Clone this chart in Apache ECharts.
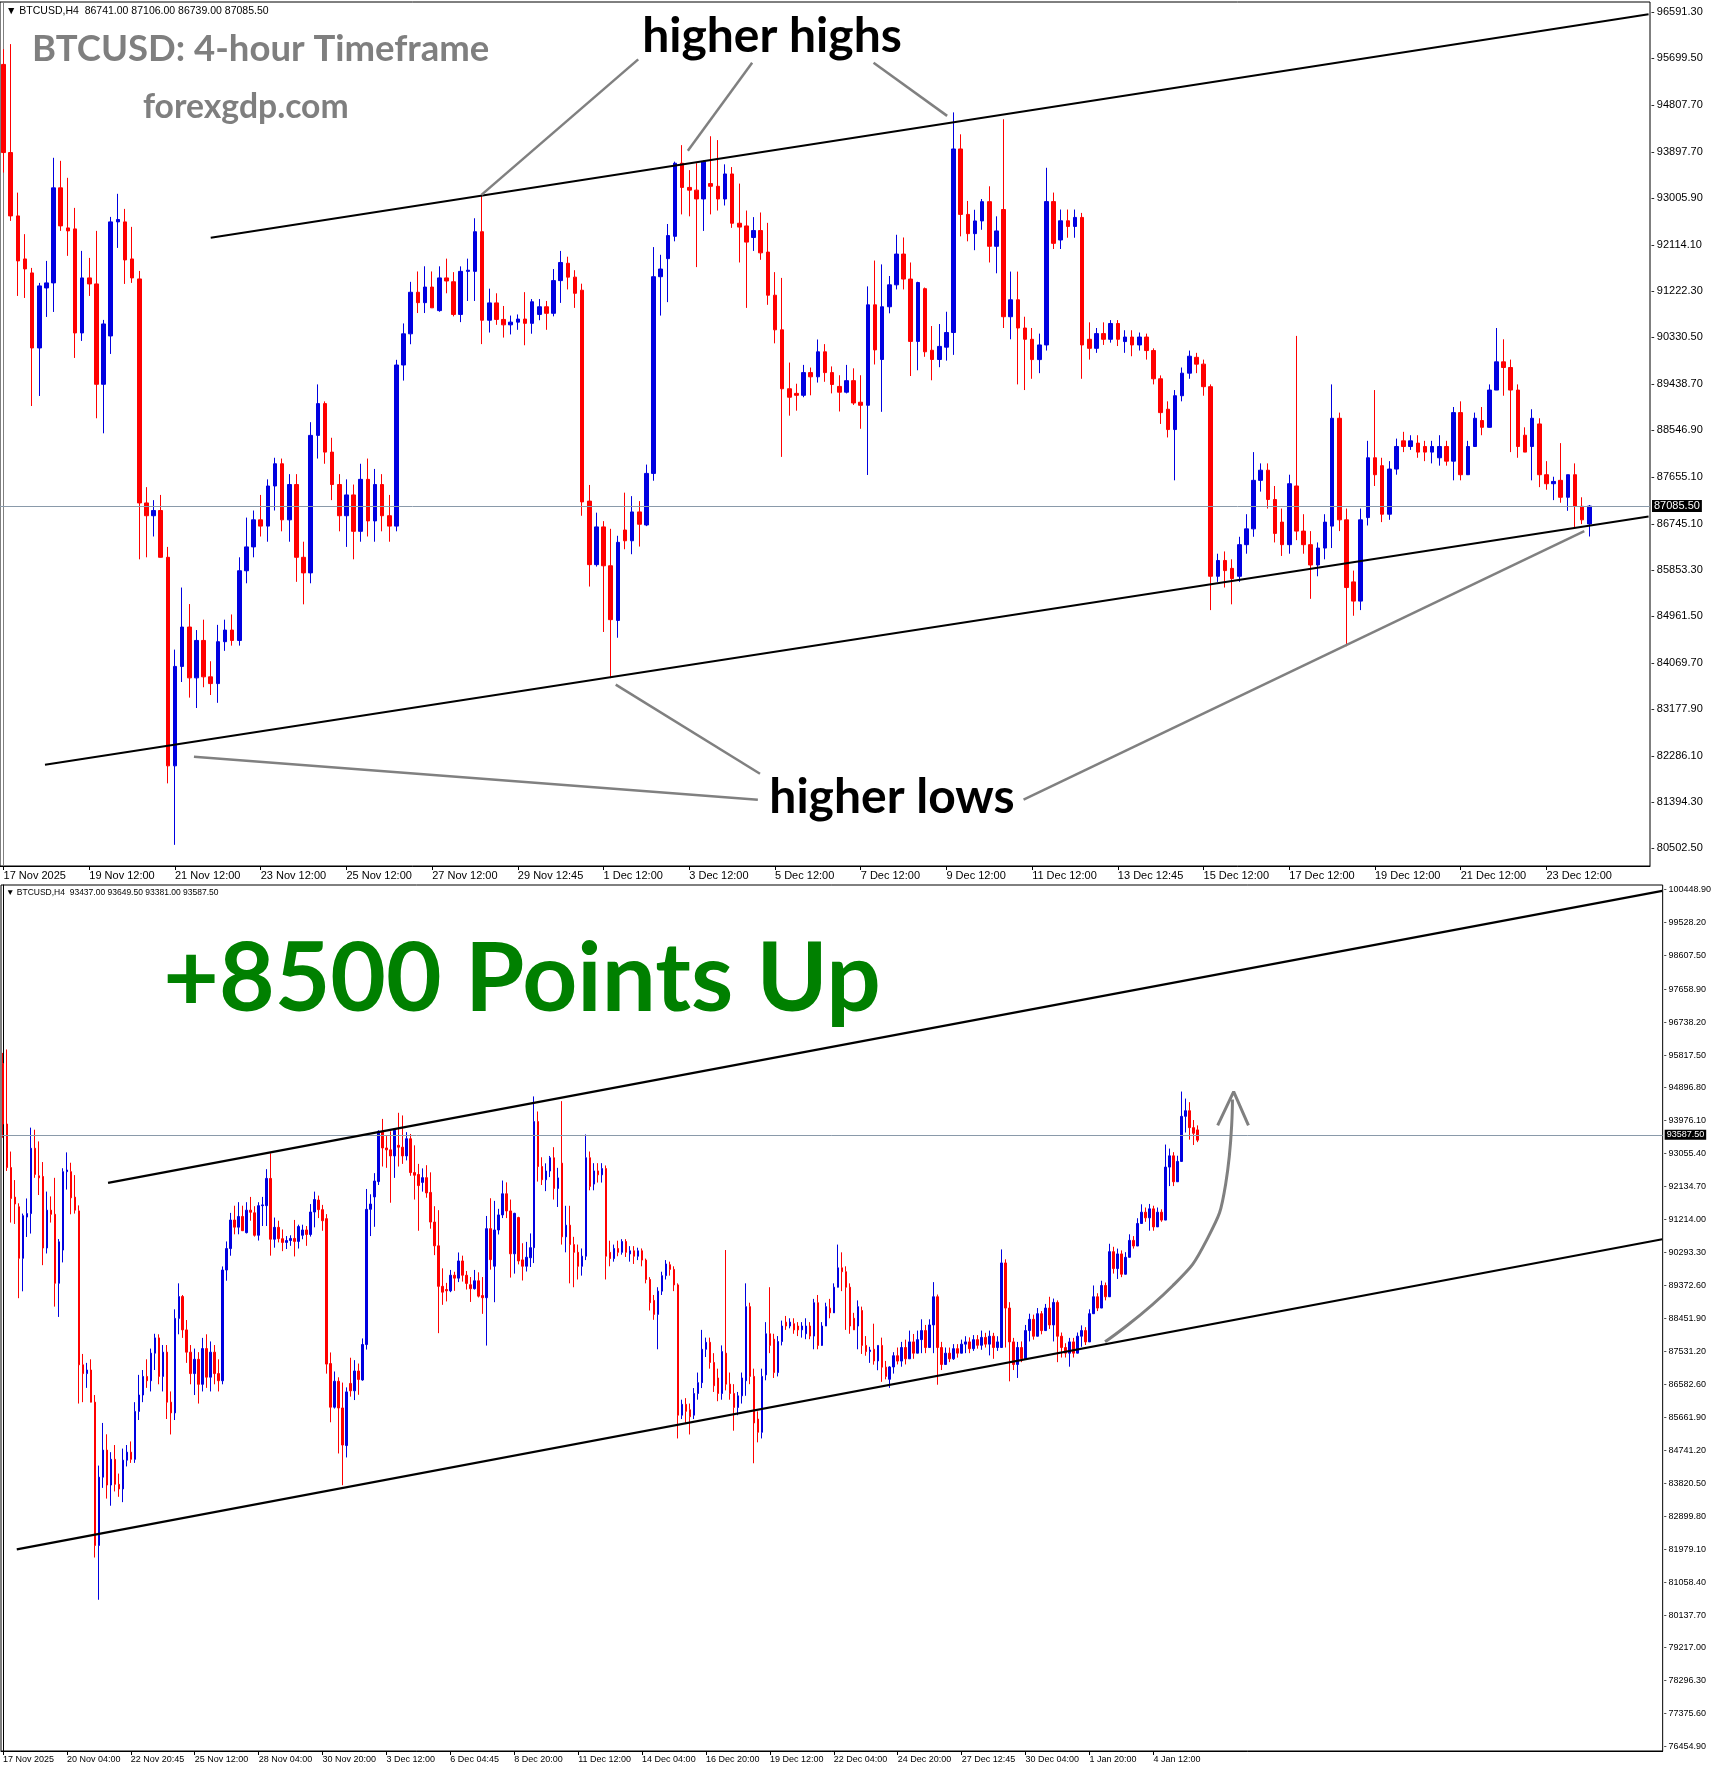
<!DOCTYPE html>
<html><head><meta charset="utf-8">
<script src="https://cdn.jsdelivr.net/npm/echarts@6/dist/echarts.min.js"></script>
<style>html,body{margin:0;padding:0;background:#fff}#c{width:1714px;height:1768px}</style>
</head><body><div id="c"></div>
<script>
// ---- OHLC data (4-hour bars, 17 Nov 2025 -> 5 Jan 2026) ----
const opens = [95584,93888,92669,91841,91572,90128,91283,91380,93209,92438,92419,90417,91476,91360,89429,90359,92554,92554,91841,91456,
87146,86900,87000,86100,82087,84000,84758,83780,84500,83800,83670,84476,84700,84500,85841,86300,86821,86700,87472,87900,
86821,87500,86100,85800,88446,89057,88124,87500,86900,87300,86600,87600,86800,87500,86900,86700,89800,90400,91200,91000,
91300,90847,91476,91402,90773,91602,91602,92365,90662,90995,90677,90573,90625,90684,90602,90773,90921,90795,91424,91758,
91491,91239,87181,85959,86685,85937,84885,86625,86418,86973,86722,87714,91499,91847,92276,93683,93217,93165,92995,93291,
93239,92995,93476,92528,92476,92254,92387,91973,91143,90477,89343,89254,89217,89654,89573,90054,89654,89388,89277,89499,
89084,89025,90958,89906,90921,91343,91935,91454,90254,91269,90084,89906,90143,90425,93957,92698,92328,92572,92943,92084,
92792,90729,91055,90512,90295,89904,90186,92944,92206,92575,92466,92640,90295,90121,90404,90295,90599,90251,90338,90186,
90338,90078,89535,88949,88558,89209,89643,89948,89817,89383,85735,86039,85887,85735,86343,86647,87581,87776,87212,86777,
86343,87472,86604,86343,85952,86278,86700,88775,86821,85627,85257,86864,88015,87863,86929,87798,88341,88232,88297,88232,
88124,88015,88232,87950,88884,87689,88232,88732,88601,89318,89861,89752,89318,88449,88232,88666,87689,87516,87581,87255,
87689,87081,86741,
87085,87400,87250,87630,87314,87788,87472,87851,88104,87630,88262,89051,87630,87156,87472,87314,87598,87472,87725,87788,
87598,87851,87693,87914,87725,87946,87630,87630,89998,88735,87788,87156,87630,87314,88104,88420,87946,88577,88104,88735,
88262,88893,87946,87630,87472,87788,87472,87946,88104,87788,88577,89051,88735,89367,89051,90314,89840,90251,89682,90156,
90630,90472,91103,91419,91261,91513,91008,91419,91198,92682,92997,92271,92840,94103,94260,93787,93724,93437];
const highs = [95879,95975,93117,92318,91668,91380,91803,93787,93729,93402,92823,91996,91861,92381,90668,92650,93094,92804,92458,91610,
87450,87200,87300,86300,84324,85518,85200,84700,84900,84100,84800,84900,85000,86100,86864,87000,87300,87600,88015,88000,
87700,87700,86400,88700,89427,89100,88400,87700,87600,87500,87900,88000,87800,87700,87300,89900,90600,91400,91600,91700,
91600,91699,91847,91587,91698,91847,92624,93069,91269,91180,90936,90751,90773,91202,91069,91069,91032,91647,91995,91884,
91624,91365,87492,86959,86796,86648,86514,87344,87277,87181,87884,92069,91921,92513,93713,94031,93550,93683,93735,94202,
94128,93661,93609,93291,92772,92646,92735,92535,91587,91476,89847,89440,89802,89751,90291,90202,89773,89603,89802,89736,
89603,91313,91810,91736,91513,92306,92254,91773,91402,91291,90550,90588,90825,94661,94239,92957,92787,92994,93239,92661,
94529,91598,91598,90729,90512,90404,93595,93118,92792,92792,92792,92727,90621,90512,90621,90664,90664,90469,90469,90425,
90404,90121,89600,89101,89318,89752,90078,90034,89904,89427,86169,86213,86061,86495,86929,88124,87907,87907,87472,87038,
87689,90360,86929,86604,86386,86929,89427,88884,87038,85844,87038,88341,89318,88015,87950,88384,88514,88449,88449,88341,
88341,88449,88341,88992,89101,88341,88884,88992,89427,90512,90295,89904,89427,88601,88949,88775,87950,87650,88297,87689,
87907,87255,87106,
87500,87630,87788,87851,88104,88009,88104,88420,88262,88420,89461,89114,87788,87630,87630,87725,87725,87851,87946,87914,
87978,87978,88104,88041,88104,88041,87946,90377,90100,88900,87900,87788,87800,88262,88577,88550,88735,88650,88850,89051,
89000,88950,88050,87750,87900,87900,88050,88250,88200,88700,89367,89150,89500,89450,90535,90450,90400,90350,90300,90800,
90750,91250,91640,91550,91650,91600,91550,91500,93313,93200,93100,93000,94797,94600,94500,94000,93850,93649.5];
const lows = [93503,92573,91129,91090,89011,89204,90725,90821,92381,91900,89936,90263,91129,88775,88486,90013,92053,91360,91380,86061,
86100,86500,86300,81750,80567,83700,83400,83200,83600,83450,83300,84300,84400,84400,85600,86100,86500,86400,87000,86600,
86400,85628,85195,85600,88000,87900,87200,86600,86300,86061,86400,86500,86400,86600,86400,86600,89500,90200,90800,90800,
90900,90825,91180,90736,90625,91032,91032,90202,90425,90573,90328,90388,90477,90180,90402,90662,90477,90736,90995,91254,
90899,86899,85537,85922,84663,83774,84552,86255,86159,86307,86700,87573,90751,91010,92180,92698,92661,91684,92380,92698,
92772,92869,92439,91773,90899,91995,91824,90958,90217,88032,88825,88921,89180,89217,89462,89477,89254,88906,89254,89032,
88573,87684,89810,88899,90795,91254,91254,89588,89699,89958,89506,89758,89884,89995,92276,92180,92009,92402,91773,91565,
90512,90295,89427,89318,89535,89643,90078,92032,92032,92249,92249,89535,89904,90034,90186,90230,90165,90034,89969,90078,
89904,89427,88666,88406,87581,89101,89535,89643,89209,85084,85627,85518,85195,85627,86169,86495,87364,87038,86386,86126,
86169,86430,86169,85301,85735,86061,86278,86604,84389,84975,85084,86712,87472,86777,86821,87689,88124,88167,88015,87950,
87907,87863,87863,87581,87581,88124,88449,88449,89209,89535,89209,88124,88015,88124,87581,87450,87400,87200,87150,86994,
86669,86739,
86500,86900,87156,87093,87156,87314,87314,87630,87472,87472,88104,87472,86588,86999,87156,87220,87283,87346,87535,87472,
87472,87535,87598,87567,87630,87409,87314,87535,88600,87630,86683,86999,86778,87220,88000,87800,87850,87950,88000,88150,
88150,87800,87220,87350,87350,87093,87350,87850,87650,87700,88450,88600,88650,88900,88950,89700,89700,89550,89600,90050,
90350,90400,90950,91100,91150,90900,90900,91050,91150,92400,92150,92150,92750,93850,93650,93450,93300,93381];
const closes = [93888,92669,91803,91649,90128,91322,91380,93209,92477,92381,90417,91476,91360,89429,90590,92554,92600,91822,91476,87146,
86900,87000,86100,82087,84000,84758,83780,84500,83800,83670,84476,84700,84500,85841,86300,86821,86700,87472,87900,86821,
87500,86100,85800,88446,89057,88124,87500,86900,87300,86600,87600,86800,87500,86900,86700,89800,90400,91200,91000,91300,
90900,91476,91417,90773,91602,91624,92365,90662,90995,90677,90573,90625,90684,90602,91017,90921,90795,91424,91773,91491,
91180,87166,85959,86685,85937,84900,86388,86418,86973,86736,87714,91499,91647,92291,93683,93217,93165,92995,93713,93239,
92995,93476,92528,92454,92165,92387,91958,91143,90477,89343,89180,89217,89654,89573,90054,89654,89425,89277,89499,89069,
89025,90958,90091,90921,91343,91935,91454,90254,91387,90054,89906,90158,90425,93957,92698,92328,92572,92943,92084,92380,
90729,91055,90512,90295,89904,90186,92944,92141,92575,92466,92640,90186,90121,90404,90295,90599,90295,90338,90186,90338,
90078,89535,88884,88558,89209,89643,89969,89817,89383,85735,86039,85844,85692,86343,86647,87581,87776,87212,86560,86343,
87516,86604,86343,85952,86278,86777,88775,86821,85518,85257,86821,88015,87689,86929,87798,88232,88232,88341,88124,88124,
88232,88232,87950,88884,87689,88232,88775,88601,89318,89861,89752,89318,88232,88124,88775,87689,87516,87560,87255,87689,
87081,86821,87085.5,
87400,87250,87630,87314,87788,87472,87851,88104,87630,88262,89051,87630,87156,87472,87314,87598,87472,87725,87788,87598,
87851,87693,87914,87725,87946,87630,87788,89998,88735,87788,87156,87630,87314,88104,88420,87946,88577,88104,88735,88262,
88893,87946,87630,87472,87788,87472,87946,88104,87788,88577,89051,88735,89367,89051,90314,89840,90251,89682,90156,90630,
90472,91103,91419,91261,91513,91008,91419,91198,92682,92997,92271,92840,94103,94260,93787,93629,93437,93587.5];

const TOP_BARS = 223;          // bars visible in the upper screenshot
const TOP_SLOTS = 231;         // bar slots across the upper chart width
const BOTTOM_SLOTS = 416;      // bar slots across the lower chart width

const topDates = ['17 Nov 2025','19 Nov 12:00','21 Nov 12:00','23 Nov 12:00','25 Nov 12:00','27 Nov 12:00','29 Nov 12:45','1 Dec 12:00','3 Dec 12:00','5 Dec 12:00','7 Dec 12:00','9 Dec 12:00','11 Dec 12:00','13 Dec 12:45','15 Dec 12:00','17 Dec 12:00','19 Dec 12:00','21 Dec 12:00','23 Dec 12:00'];
const bottomDates = ['17 Nov 2025','20 Nov 04:00','22 Nov 20:45','25 Nov 12:00','28 Nov 04:00','30 Nov 20:00','3 Dec 12:00','6 Dec 04:45','8 Dec 20:00','11 Dec 12:00','14 Dec 04:00','16 Dec 20:00','19 Dec 12:00','22 Dec 04:00','24 Dec 20:00','27 Dec 12:45','30 Dec 04:00','1 Jan 20:00','4 Jan 12:00'];
const topDateStep = 12, bottomDateStep = 16;

const topPriceTicks = [96591.30,95699.50,94807.70,93897.70,93005.90,92114.10,91222.30,90330.50,89438.70,88546.90,87655.10,86745.10,85853.30,84961.50,84069.70,83177.90,82286.10,81394.30,80502.50];
const bottomPriceTicks = [100448.90,99528.20,98607.50,97658.90,96738.20,95817.50,94896.80,93976.10,93055.40,92134.70,91214.00,90293.30,89372.60,88451.90,87531.20,86582.60,85661.90,84741.20,83820.50,82899.80,81979.10,81058.40,80137.70,79217.00,78296.30,77375.60,76454.90];
const topRange = [80160, 96785];
const bottomRange = [76332.5, 100580.5];
const topLast = 87085.5, bottomLast = 93587.5;

// drawn objects, in (bar index, price)
const topChannel = [[[29.0,92249],[230.3,96548]], [[5.8,82109],[230.3,86886]]];
const topPointers = [
  [[88.85,95680],[66.9,93074]], [[104.8,95615],[95.8,93921]], [[121.8,95615],[132.1,94594]],
  [[105.6,81436],[26.65,82261]], [[105.9,81936],[85.7,83651]], [[142.8,81436],[221.3,86604]]
];
const bottomChannel = [[[26.3,92240],[415.4,100418]], [[3.45,81979],[415.4,90662]]];
const bottomArrowCurve = [[275.9,87789],[292.9,89367],[301.3,90630],[306.1,92209],[307.8,94577]];
const bottomArrowHead = [[304.1,93850],[308.1,94797],[311.8,93850]];

const candles = opens.map((o, i) => [o, closes[i], lows[i], highs[i]]);
const topCats = Array.from({length: TOP_SLOTS}, (_, i) => (i % topDateStep === 0 && topDates[i / topDateStep]) ? topDates[i / topDateStep] : '');
const botCats = Array.from({length: BOTTOM_SLOTS}, (_, i) => (i % bottomDateStep === 0 && bottomDates[i / bottomDateStep]) ? bottomDates[i / bottomDateStep] : '');
const hasLabel = (i, v) => v !== '';

const FONT = 'Liberation Sans';
const BULL = '#0000E0', BEAR = '#FF0000';

function seg(points, xi, yi, color, width, smooth) {
  return {type: 'line', xAxisIndex: xi, yAxisIndex: yi, data: points, symbol: 'none', silent: true,
    smooth: !!smooth, lineStyle: {color: color, width: width}, z: 5, animation: false};
}

const series = [
  {type: 'candlestick', xAxisIndex: 0, yAxisIndex: 0, data: candles.slice(0, TOP_BARS), barWidth: 4,
   itemStyle: {color: BULL, color0: BEAR, borderColor: BULL, borderColor0: BEAR, borderWidth: 1},
   markLine: {symbol: 'none', silent: true, animation: false, data: [{yAxis: topLast}],
     lineStyle: {color: '#8A9AAA', width: 1, type: 'solid'},
     label: {position: 'end', distance: 2, formatter: topLast.toFixed(2), backgroundColor: '#000', color: '#fff',
       fontSize: 11, fontFamily: FONT, padding: [1, 2, 0, 2]}}},
  {type: 'candlestick', xAxisIndex: 2, yAxisIndex: 1, data: candles, barWidth: 2,
   itemStyle: {color: BULL, color0: BEAR, borderColor: BULL, borderColor0: BEAR, borderWidth: 1},
   markLine: {symbol: 'none', silent: true, animation: false, data: [{yAxis: bottomLast}],
     lineStyle: {color: '#8A9AAA', width: 1, type: 'solid'},
     label: {position: 'end', distance: 2, formatter: bottomLast.toFixed(2), backgroundColor: '#000', color: '#fff',
       fontSize: 9, fontFamily: FONT, padding: [1, 2, 0, 2]}}}
];
topChannel.forEach(s => series.push(seg(s, 1, 0, '#000', 2)));
topPointers.forEach(s => series.push(seg(s, 1, 0, '#808080', 2.5)));
bottomChannel.forEach(s => series.push(seg(s, 3, 1, '#000', 2.2)));
series.push(seg(bottomArrowCurve, 3, 1, '#808080', 3, 0.6));
series.push(seg(bottomArrowHead, 3, 1, '#808080', 3));

function catAxis(grid, cats, fs) {
  return {type: 'category', gridIndex: grid, data: cats, boundaryGap: true,
    axisLine: {show: true, lineStyle: {color: '#000', width: 1}},
    axisTick: {show: true, alignWithLabel: true, interval: hasLabel, length: 4, lineStyle: {color: '#000'}},
    axisLabel: {interval: hasLabel, align: 'left', margin: 4, fontSize: fs, color: '#000', fontFamily: FONT},
    splitLine: {show: false}};
}
function priceAxis(grid, range, ticks, fs, lineColor) {
  return {type: 'value', gridIndex: grid, position: 'right', min: range[0], max: range[1],
    splitLine: {show: false},
    axisLine: {show: true, lineStyle: {color: lineColor, width: 1}},
    axisTick: {show: false},
    axisLabel: {customValues: ticks, formatter: v => '-\u2009' + v.toFixed(2), fontSize: fs, color: '#000', fontFamily: FONT, margin: 1}};
}

const option = {
  animation: false,
  backgroundColor: '#fff',
  grid: [
    {left: 0, top: 2, width: 1650, height: 864, show: true, borderColor: '#000', borderWidth: 1},
    {left: 0, top: 885, width: 1663, height: 866, show: true, borderColor: '#000', borderWidth: 1}
  ],
  xAxis: [
    catAxis(0, topCats, 11),
    {type: 'value', gridIndex: 0, min: -0.5, max: TOP_SLOTS - 0.5, show: false},
    catAxis(1, botCats, 9),
    {type: 'value', gridIndex: 1, min: -0.5, max: BOTTOM_SLOTS - 0.5, show: false}
  ],
  yAxis: [
    priceAxis(0, topRange, topPriceTicks, 11, '#808080'),
    priceAxis(1, bottomRange, bottomPriceTicks, 9, '#000')
  ],
  series: series,
  graphic: [
    {type: 'text', x: 6, y: 11, style: {text: '▼ BTCUSD,H4  86741.00 87106.00 86739.00 87085.50', fill: '#000', font: '10.5px "Liberation Sans"', verticalAlign: 'middle'}},
    {type: 'text', x: 6, y: 893, style: {text: '▼ BTCUSD,H4  93437.00 93649.50 93381.00 93587.50', fill: '#000', font: '8.5px "Liberation Sans"', verticalAlign: 'middle'}},
    {type: 'text', x: 32, y: 49, style: {text: 'BTCUSD: 4-hour Timeframe', fill: '#7f7f7f', font: 'bold 36.5px Lato', verticalAlign: 'middle'}},
    {type: 'text', x: 143, y: 107, style: {text: 'forexgdp.com', fill: '#7f7f7f', font: 'bold 33.7px Lato', verticalAlign: 'middle'}},
    {type: 'text', x: 772, y: 37, style: {text: 'higher highs', fill: '#000', font: 'bold 48px Lato', align: 'center', verticalAlign: 'middle'}},
    {type: 'text', x: 892, y: 798, style: {text: 'higher lows', fill: '#000', font: 'bold 48px Lato', align: 'center', verticalAlign: 'middle'}},
    {type: 'text', x: 522, y: 980, style: {text: '+8500 Points Up', fill: '#008000', font: 'bold 96px Lato', align: 'center', verticalAlign: 'middle'}}
  ]
};

const chart = echarts.init(document.getElementById('c'), null, {renderer: 'canvas'});
chart.setOption(option);
</script>
</body></html>
